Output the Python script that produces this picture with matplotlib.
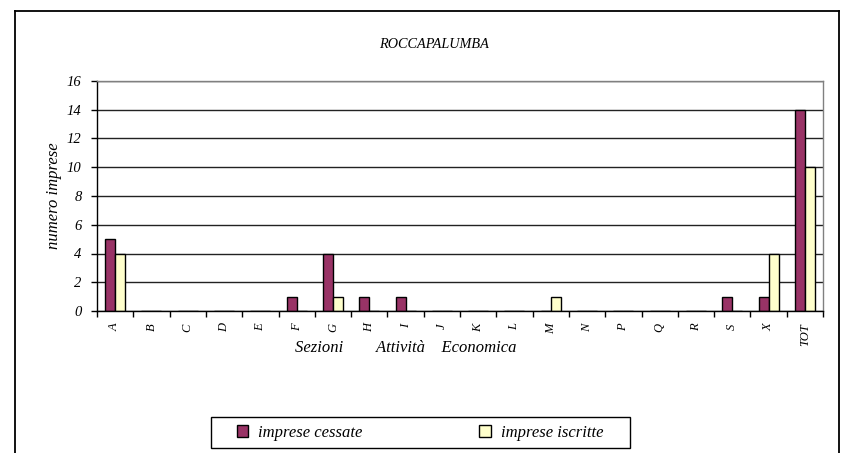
import numpy as np
import matplotlib.pyplot as plt
from matplotlib.lines import Line2D
from matplotlib.patches import Rectangle

plt.rcParams['font.family'] = ['Liberation Serif', 'DejaVu Serif']
plt.rcParams['font.style'] = 'italic'

sezioni = ['A', 'B', 'C', 'D', 'E', 'F', 'G', 'H', 'I', 'J',
           'K', 'L', 'M', 'N', 'P', 'Q', 'R', 'S', 'X', 'TOT']
cessate = [5, 0, 0, 0, 0, 1, 4, 1, 1, 0, 0, 0, 0, 0, 0, 0, 0, 1, 1, 14]
iscritte = [4, 0, 0, 0, 0, 0, 1, 0, 0, 0, 0, 0, 1, 0, 0, 0, 0, 0, 4, 10]
y_ticks = [0, 2, 4, 6, 8, 10, 12, 14, 16]

W, H = 843, 453
fig = plt.figure(figsize=(W / 100, H / 100), dpi=100)
ax = fig.add_axes([97 / W, 1 - 311 / H, (823 - 97) / W, (311 - 81) / H])
ax.set_axisbelow(True)

x = np.arange(len(sezioni))
bw = 0.275
b1 = ax.bar(x - bw / 2, cessate, bw, color='#993366', edgecolor='black',
            linewidth=1, label='imprese cessate', zorder=2)
b2 = ax.bar(x + bw / 2, iscritte, bw, color='#FFFFCC', edgecolor='black',
            linewidth=1, label='imprese iscritte', zorder=2)

ax.set_xlim(-0.5, len(sezioni) - 0.5)
ax.set_ylim(0, 16)
ax.set_yticks(y_ticks)
ax.set_yticklabels([str(v) for v in y_ticks], fontsize=10.5)
ax.tick_params(axis='y', length=4, width=1, pad=7, direction='out')

ax.set_xticks(x)
ax.set_xticklabels(sezioni, rotation=90, fontsize=9, va='top')
ax.set_xticks(np.arange(len(sezioni) + 1) - 0.5, minor=True)
ax.tick_params(axis='x', which='major', length=0, pad=9)
ax.tick_params(axis='x', which='minor', length=4, width=1, direction='out')

ax.grid(axis='y', color='#222222', linewidth=1)
ax.spines['left'].set_color('black')
ax.spines['bottom'].set_color('black')
ax.spines['top'].set_color('#808080')
ax.spines['right'].set_color('#808080')
for s in ax.spines.values():
    s.set_linewidth(1)

ax.set_ylabel('numero imprese', fontsize=12)
ax.yaxis.set_label_coords((62 - 97) / (823 - 97), 0.5)
fig.text(406 / W, 1 - 348 / H, 'Sezioni        Attività    Economica',
         fontsize=12, ha='center', va='center')
fig.text(434 / W, 1 - 45 / H, 'ROCCAPALUMBA', fontsize=10.3,
         ha='center', va='center')

# outer chart frame
fig.add_artist(Line2D([14.5 / W, 14.5 / W], [0, 1 - 11 / H], color='black', lw=1.3))
fig.add_artist(Line2D([14.5 / W, 839 / W], [1 - 11 / H, 1 - 11 / H], color='black', lw=1.3))
fig.add_artist(Line2D([839 / W, 839 / W], [0, 1 - 11 / H], color='black', lw=1.3))

# legend box
fig.add_artist(Rectangle((211 / W, 1 - 448 / H), (630 - 211) / W, 31 / H,
                         transform=fig.transFigure, fill=False,
                         edgecolor='black', linewidth=1))
fig.legend(handles=[b1, b2], loc='center', bbox_to_anchor=(420 / W, 1 - 433 / H),
           ncol=2, frameon=False, fontsize=12, handlelength=0.7,
           handleheight=0.7, handletextpad=0.6, columnspacing=7)

fig.savefig('out.png', dpi=100)
